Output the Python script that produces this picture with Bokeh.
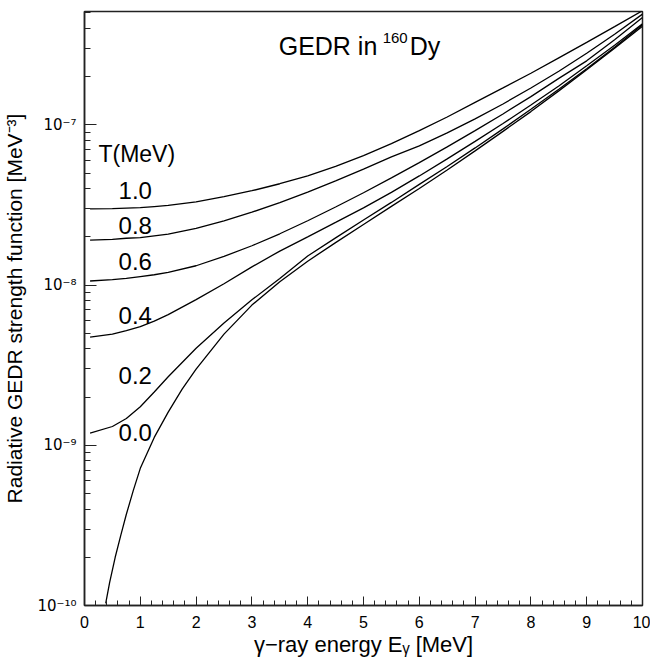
from bokeh.plotting import figure
from bokeh.models import Range1d, FixedTicker, SingleIntervalTicker, CustomJSTickFormatter, Label
from bokeh.embed import file_html
from bokeh.resources import INLINE

# ---- data (E in MeV, strength in MeV^-3) ----
energy = [0.1, 0.5, 0.75, 1, 1.25, 1.5, 2, 2.5, 3, 3.5, 4, 4.5, 5,
          5.5, 6, 6.5, 7, 7.5, 8, 8.5, 9, 9.5, 10]
gsf_T10 = [2.99e-8, 3.00e-8, 3.02e-8, 3.04e-8, 3.09e-8, 3.14e-8, 3.31e-8, 3.56e-8, 3.88e-8,
           4.29e-8, 4.81e-8, 5.50e-8, 6.42e-8, 7.63e-8, 9.20e-8, 1.12e-7, 1.38e-7, 1.70e-7,
           2.10e-7, 2.62e-7, 3.27e-7, 4.10e-7, 5.16e-7]
gsf_T08 = [1.91e-8, 1.93e-8, 1.96e-8, 1.98e-8, 2.03e-8, 2.08e-8, 2.26e-8, 2.52e-8, 2.85e-8,
           3.27e-8, 3.80e-8, 4.47e-8, 5.29e-8, 6.31e-8, 7.39e-8, 8.91e-8, 1.09e-7, 1.35e-7,
           1.70e-7, 2.16e-7, 2.80e-7, 3.68e-7, 4.91e-7]
gsf_T06 = [1.06e-8, 1.08e-8, 1.10e-8, 1.13e-8, 1.16e-8, 1.20e-8, 1.32e-8, 1.51e-8, 1.76e-8,
           2.09e-8, 2.52e-8, 3.07e-8, 3.77e-8, 4.67e-8, 5.81e-8, 7.29e-8, 9.20e-8, 1.17e-7,
           1.50e-7, 1.95e-7, 2.51e-7, 3.40e-7, 4.68e-7]
gsf_T04 = [4.73e-9, 4.94e-9, 5.20e-9, 5.50e-9, 5.96e-9, 6.54e-9, 8.12e-9, 1.02e-8, 1.30e-8,
           1.63e-8, 2.00e-8, 2.46e-8, 3.03e-8, 3.79e-8, 4.80e-8, 6.13e-8, 7.89e-8, 1.02e-7,
           1.33e-7, 1.75e-7, 2.34e-7, 3.14e-7, 4.28e-7]
gsf_T02 = [1.19e-9, 1.31e-9, 1.47e-9, 1.74e-9, 2.15e-9, 2.68e-9, 4.03e-9, 5.80e-9, 8.09e-9,
           1.10e-8, 1.52e-8, 1.97e-8, 2.55e-8, 3.28e-8, 4.25e-8, 5.50e-8, 7.18e-8, 9.44e-8,
           1.25e-7, 1.67e-7, 2.24e-7, 3.05e-7, 4.22e-7]
energy_T00 = [0.38, 0.45, 0.55, 0.65, 0.75, 0.875, 1, 1.25, 1.5, 1.75, 2, 2.5, 3, 3.5, 4,
              4.5, 5, 5.5, 6, 6.5, 7, 7.5, 8, 8.5, 9, 9.5, 10]
gsf_T00 = [1.03e-10, 1.39e-10, 2.00e-10, 2.74e-10, 3.71e-10, 5.23e-10, 7.18e-10, 1.12e-9,
           1.61e-9, 2.24e-9, 2.99e-9, 4.94e-9, 7.50e-9, 1.05e-8, 1.41e-8, 1.84e-8, 2.39e-8,
           3.10e-8, 4.01e-8, 5.23e-8, 6.88e-8, 9.11e-8, 1.21e-7, 1.63e-7, 2.21e-7, 3.01e-7,
           4.13e-7]

temperatures = ["1.0", "0.8", "0.6", "0.4", "0.2", "0.0"]
y_major = [1e-10, 1e-9, 1e-8, 1e-7]

FONT = "Liberation Sans"
INK = "#222222"

p = figure(width=650, height=661, x_range=Range1d(0, 10), y_range=Range1d(1e-10, 5.1e-7),
           y_axis_type="log", output_backend="svg", toolbar_location=None,
           min_border_left=84, min_border_right=8, min_border_top=11, min_border_bottom=56,
           background_fill_color="white", border_fill_color="white")

p.xgrid.visible = False
p.ygrid.visible = False
p.outline_line_color = INK
p.outline_line_width = 1.5

# x axis
xa = p.xaxis[0]
xa.ticker = SingleIntervalTicker(interval=1, num_minor_ticks=5)
xa.major_tick_in = 9
xa.major_tick_out = 0
xa.minor_tick_in = 5
xa.minor_tick_out = 0
xa.axis_line_width = 1.5
xa.axis_line_color = INK
xa.major_tick_line_color = INK
xa.minor_tick_line_color = INK
xa.major_label_text_font = FONT
xa.major_label_text_font_size = "16px"
xa.major_label_text_color = "black"
xa.major_label_standoff = 10
xa.axis_label = "\u03b3\u2212ray energy E\u1d67 [MeV]"
xa.axis_label_text_font = FONT
xa.axis_label_text_font_size = "22px"
xa.axis_label_text_font_style = "normal"
xa.axis_label_text_color = "black"
xa.axis_label_standoff = 1

# y axis: 10 with superscript exponent
minor = [m * 10.0 ** e for e in range(-10, -6) for m in range(2, 10) if m * 10.0 ** e <= 5.1e-7]
ya = p.yaxis[0]
ya.ticker = FixedTicker(ticks=y_major, minor_ticks=minor)
ya.formatter = CustomJSTickFormatter(code="""
const e = Math.round(Math.log10(tick));
const sup = {'-':'\u207b','0':'\u2070','1':'\u00b9','2':'\u00b2','3':'\u00b3','4':'\u2074',
             '5':'\u2075','6':'\u2076','7':'\u2077','8':'\u2078','9':'\u2079'};
return '10' + String(e).split('').map(c => sup[c]).join('');
""")
ya.major_tick_in = 12
ya.major_tick_out = 0
ya.minor_tick_in = 6
ya.minor_tick_out = 0
ya.axis_line_width = 1.5
ya.axis_line_color = INK
ya.major_tick_line_color = INK
ya.minor_tick_line_color = INK
ya.major_label_text_font = "DejaVu Sans"
ya.major_label_text_font_size = "15px"
ya.major_label_text_color = "black"
ya.major_label_standoff = 8
ya.axis_label = "Radiative GEDR strength function [MeV\u207b\u00b3]"
ya.axis_label_text_font = FONT
ya.axis_label_text_font_size = "21px"
ya.axis_label_text_font_style = "normal"
ya.axis_label_text_color = "black"
ya.axis_label_standoff = 8

series = [(energy, gsf_T10), (energy, gsf_T08), (energy, gsf_T06),
          (energy, gsf_T04), (energy, gsf_T02), (energy_T00, gsf_T00)]
for xs, ys in series:
    p.line(xs, ys, line_color="black", line_width=1.3)

# curve labels
label_y = [3.87e-8, 2.34e-8, 1.41e-8, 6.49e-9, 2.74e-9, 1.21e-9]
for t, yv in zip(temperatures, label_y):
    p.add_layout(Label(x=0.61, y=yv, text=t, text_font=FONT, text_font_size="24px",
                       text_baseline="middle", text_align="left", text_color="black"))

p.add_layout(Label(x=0.25, y=6.59e-8, text="T(MeV)", text_font=FONT, text_font_size="23px",
                   text_baseline="middle", text_align="left", text_color="black"))

# title inside the frame: "GEDR in 160Dy" with raised mass number
p.add_layout(Label(x=3.48, y=3.12e-7, text="GEDR in", text_font=FONT,
                   text_font_size="25px", text_baseline="middle", text_align="left",
                   text_color="black"))
p.add_layout(Label(x=3.48, y=3.12e-7, x_offset=104, y_offset=8, text="160", text_font=FONT,
                   text_font_size="15px", text_baseline="middle", text_align="left",
                   text_color="black"))
p.add_layout(Label(x=3.48, y=3.12e-7, x_offset=131, text="Dy", text_font=FONT,
                   text_font_size="25px", text_baseline="middle", text_align="left",
                   text_color="black"))

open("out.html", "w").write(file_html(p, INLINE))
